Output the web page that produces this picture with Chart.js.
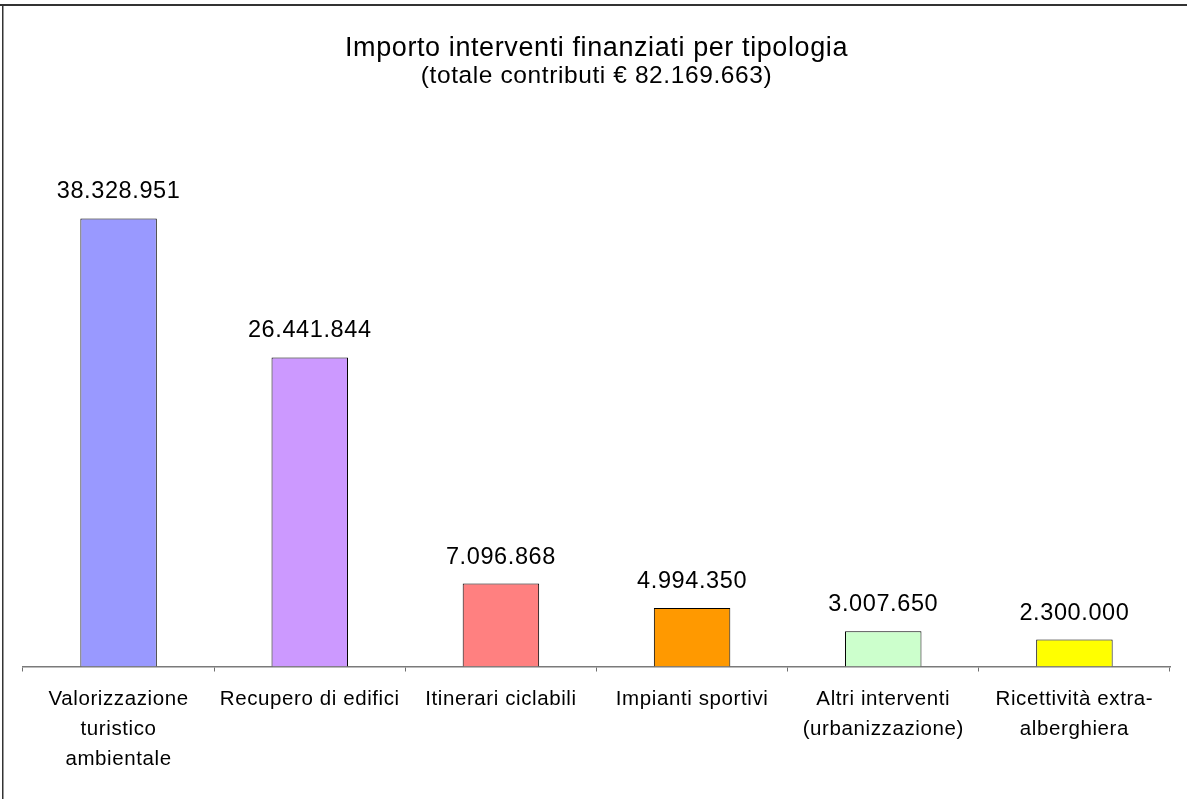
<!DOCTYPE html>
<html lang="it">
<head>
<meta charset="utf-8">
<title>Importo interventi finanziati per tipologia</title>
<script src="https://cdn.jsdelivr.net/npm/chart.js@4/dist/chart.umd.min.js"></script>
<style>
  html, body { margin: 0; padding: 0; background: #ffffff; }
  #wrap { position: relative; width: 1187px; height: 799px; }
</style>
</head>
<body>
<div id="wrap"><canvas id="chart" width="1187" height="799"></canvas></div>
<script>
// Categories (multi-line labels) and funded amounts in euro
const categories = [
  ["Valorizzazione", "turistico", "ambientale"],
  ["Recupero di edifici"],
  ["Itinerari ciclabili"],
  ["Impianti sportivi"],
  ["Altri interventi", "(urbanizzazione)"],
  ["Ricettività extra-", "alberghiera"]
];
const amounts = [38328951, 26441844, 7096868, 4994350, 3007650, 2300000];
const barColors = ["#9999FF", "#CC99FF", "#FF8080", "#FF9900", "#CCFFCC", "#FFFF00"];
const titleText = "Importo interventi finanziati per tipologia";
const subtitleText = "(totale contributi € 82.169.663)";

const FONT = "'Liberation Sans', Arial, Helvetica, sans-serif";

// Italian thousands separator
function formatIt(n) {
  return String(Math.round(n)).replace(/\B(?=(\d{3})+(?!\d))/g, ".");
}

// Slightly open letter spacing for all canvas text
const spacingPlugin = {
  id: "spacing",
  beforeLayout(chart) { chart.ctx.letterSpacing = "0.6px"; },
  beforeDraw(chart) { chart.ctx.letterSpacing = "0.6px"; }
};

// Value labels above each bar
const valueLabels = {
  id: "valueLabels",
  afterDatasetsDraw(chart) {
    const ctx = chart.ctx;
    const meta = chart.getDatasetMeta(0);
    ctx.save();
    ctx.letterSpacing = "0.6px";
    ctx.font = "23.5px " + FONT;
    ctx.fillStyle = "#000000";
    ctx.textAlign = "center";
    ctx.textBaseline = "alphabetic";
    meta.data.forEach((bar, i) => {
      ctx.fillText(formatIt(amounts[i]), bar.x, bar.y - 20);
    });
    ctx.restore();
  }
};

// Frame lines along the top and left edge
const frame = {
  id: "frame",
  afterDraw(chart) {
    const ctx = chart.ctx;
    ctx.save();
    ctx.strokeStyle = "#333333";
    ctx.lineWidth = 2;
    ctx.beginPath();
    ctx.moveTo(0, 5);
    ctx.lineTo(chart.width, 5);
    ctx.stroke();
    ctx.lineWidth = 1.5;
    ctx.beginPath();
    ctx.moveTo(2.75, 4);
    ctx.lineTo(2.75, chart.height);
    ctx.stroke();
    ctx.restore();
  }
};

new Chart(document.getElementById("chart"), {
  type: "bar",
  data: {
    labels: categories,
    datasets: [{
      data: amounts,
      backgroundColor: barColors,
      borderColor: "#000000",
      borderWidth: 1,
      barPercentage: 0.4,
      categoryPercentage: 1.0
    }]
  },
  options: {
    responsive: false,
    devicePixelRatio: 1,
    animation: false,
    layout: { padding: { left: 23, right: 17, top: 0, bottom: 0 } },
    plugins: {
      legend: { display: false },
      tooltip: { enabled: false },
      title: {
        display: true,
        text: titleText,
        color: "#000000",
        font: { family: FONT, size: 27, weight: "normal", lineHeight: 1 },
        padding: { top: 35.5, bottom: 0 }
      },
      subtitle: {
        display: true,
        text: subtitleText,
        color: "#000000",
        font: { family: FONT, size: 24.5, weight: "normal", lineHeight: 1 },
        padding: { top: 1.5, bottom: 52 }
      }
    },
    scales: {
      x: {
        offset: true,
        grid: {
          offset: true,
          drawOnChartArea: false,
          drawTicks: true,
          tickLength: 5,
          color: "#6e6e6e",
          lineWidth: 1
        },
        border: { display: true, color: "#7a7a7a", width: 1.5 },
        ticks: {
          color: "#000000",
          padding: 13,
          maxRotation: 0,
          autoSkip: false,
          font: { family: FONT, size: 20.5, lineHeight: 1.47 }
        },
        afterFit(scale) { scale.height = 132.5; }
      },
      y: {
        display: false,
        min: 0,
        max: 45000000
      }
    }
  },
  plugins: [spacingPlugin, valueLabels, frame]
});
</script>
</body>
</html>
